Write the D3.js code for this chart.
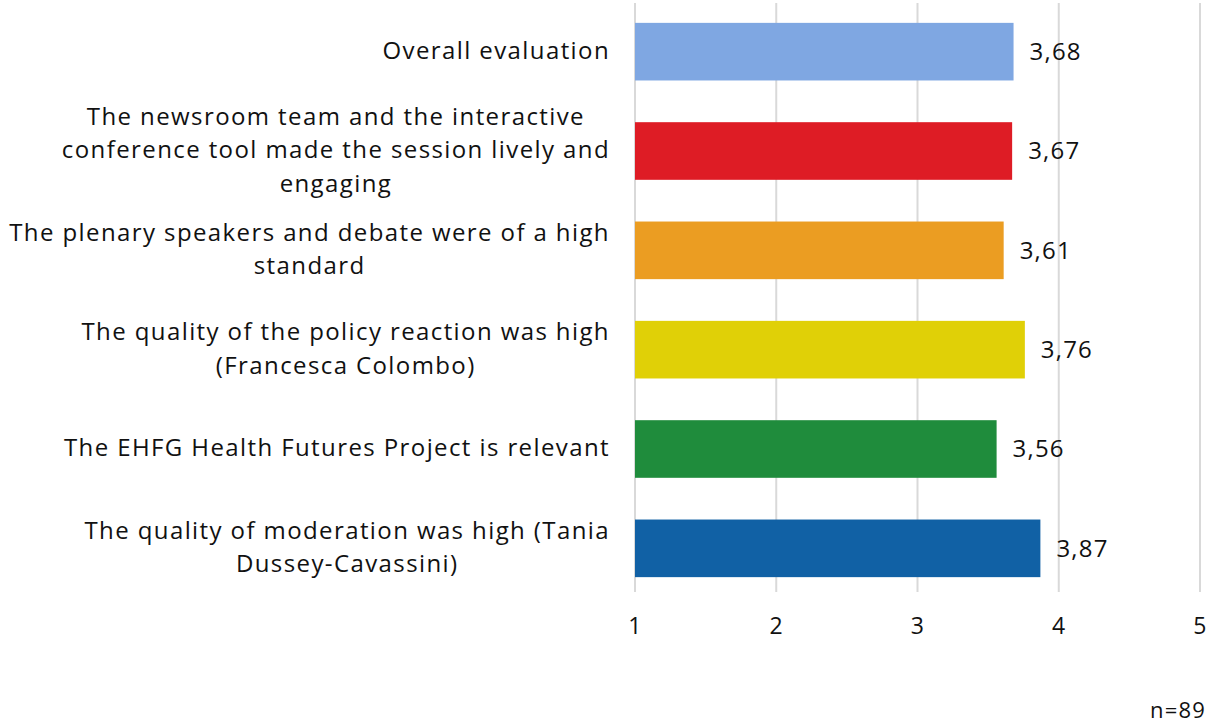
<!DOCTYPE html>
<html>

<head>
  <meta charset="utf-8">
  <script src="https://d3js.org/d3.v7.min.js"></script>
  <style>
    body { margin: 0; background: #fff; }
    text { font-family: "Open Sans", "Noto Sans", sans-serif; fill: #111; letter-spacing: 1.2px; }
  </style>
</head>

<body>
  <div id="my_dataviz"></div>
  <script>
    var categories = [
      ["Overall evaluation"],
      ["The newsroom team and the interactive", "conference tool made the session lively and", "engaging"],
      ["The plenary speakers and debate were of a high", "standard"],
      ["The quality of the policy reaction was high", "(Francesca Colombo)"],
      ["The EHFG Health Futures Project is relevant"],
      ["The quality of moderation was high (Tania", "Dussey-Cavassini)"]
    ];
    var values = [3.68, 3.67, 3.61, 3.76, 3.56, 3.87];
    var colors = ["#7fa7e2", "#de1c25", "#eb9d22", "#e0d007", "#1f8c3c", "#1161a5"];
    var ticks = [1, 2, 3, 4, 5];
    var note = "n=89";

    var W = 1212, H = 725;
    var margin = { top: 3, right: 12, bottom: 128, left: 635 },
      width = W - margin.left - margin.right,
      height = H - margin.top - margin.bottom;

    var svg = d3.select("#my_dataviz")
      .append("svg")
      .attr("width", W)
      .attr("height", H)
      .append("g")
      .attr("transform", "translate(" + margin.left + "," + margin.top + ")");

    var x = d3.scaleLinear()
      .domain([1, 5])
      .range([0, 565]);

    var y = d3.scaleBand()
      .domain(d3.range(categories.length))
      .range([-1, height + 1])
      .paddingInner(0.42)
      .paddingOuter(0.21);

    // grid lines
    svg.selectAll("gridline")
      .data(ticks)
      .enter()
      .append("line")
      .attr("x1", d => x(d))
      .attr("x2", d => x(d))
      .attr("y1", 0)
      .attr("y2", height - 5)
      .attr("stroke", "#d9d9d9")
      .attr("stroke-width", 2);

    // x axis labels
    var xAxis = svg.append("g")
      .attr("transform", "translate(0," + (height - 5) + ")")
      .call(d3.axisBottom(x).tickValues(ticks).tickSize(0).tickPadding(26).tickFormat(d3.format("d")));
    xAxis.select(".domain").remove();
    xAxis.selectAll("text")
      .style("font-family", "'Open Sans', 'Noto Sans', sans-serif")
      .style("font-size", "23px")
      .attr("fill", "#111");

    // bars
    svg.selectAll("mybar")
      .data(values)
      .enter()
      .append("rect")
      .attr("x", x(1))
      .attr("y", (d, i) => y(i))
      .attr("width", d => x(d) - x(1))
      .attr("height", y.bandwidth())
      .attr("fill", (d, i) => colors[i]);

    // value labels
    svg.selectAll("myvalue")
      .data(values)
      .enter()
      .append("text")
      .attr("x", d => x(d) + 16)
      .attr("y", (d, i) => y(i) + y.bandwidth() / 2)
      .attr("dy", "0.35em")
      .style("font-size", "24px")
      .text(d => d3.format(".2f")(d).replace(".", ","));

    // category labels, lines centred in a block that is right-aligned
    var lineH = 33.5;
    categories.forEach(function (lines, i) {
      var g = svg.append("g");
      var cy = y(i) + y.bandwidth() / 2 - 1;
      var texts = g.selectAll("text")
        .data(lines)
        .enter()
        .append("text")
        .attr("y", (d, j) => cy + (j - (lines.length - 1) / 2) * lineH)
        .attr("dy", "0.35em")
        .attr("text-anchor", "middle")
        .style("font-size", "24px")
        .style("letter-spacing", "1.4px")
        .text(d => d);
      var maxW = d3.max(texts.nodes(), n => n.getComputedTextLength());
      texts.attr("x", -25 - maxW / 2);
    });

    svg.append("text")
      .attr("x", W - margin.left - 6)
      .attr("y", 710 - margin.top)
      .attr("dy", "0.35em")
      .attr("text-anchor", "end")
      .style("font-size", "22px")
      .text(note);
  </script>
</body>

</html>
